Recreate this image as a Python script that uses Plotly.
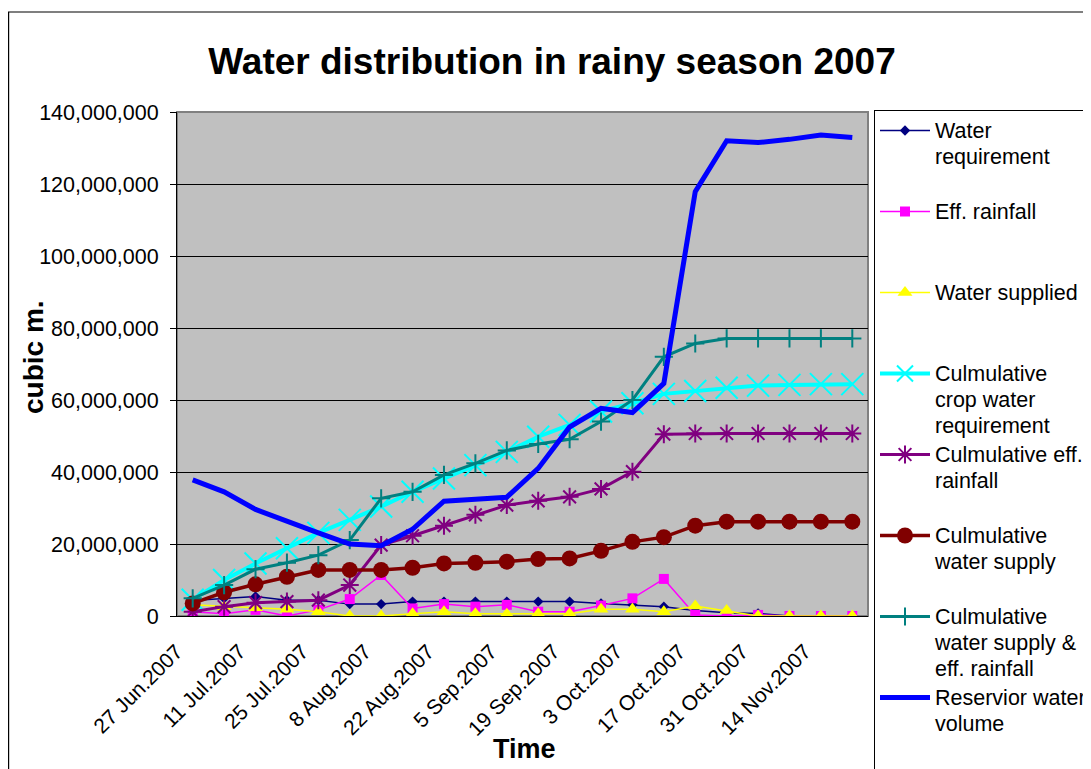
import plotly.graph_objects as go

dates = ["27 Jun.2007", "4 Jul.2007", "11 Jul.2007", "18 Jul.2007", "25 Jul.2007",
         "1 Aug.2007", "8 Aug.2007", "15 Aug.2007", "22 Aug.2007", "29 Aug.2007",
         "5 Sep.2007", "12 Sep.2007", "19 Sep.2007", "26 Sep.2007", "3 Oct.2007",
         "10 Oct.2007", "17 Oct.2007", "24 Oct.2007", "31 Oct.2007", "7 Nov.2007",
         "14 Nov.2007", "21 Nov.2007"]
tick_labels = dates[::2]

water_requirement = [4.3e6, 4.9e6, 5.4e6, 4.4e6, 4.4e6, 3.3e6, 3.3e6, 4.0e6, 4.0e6, 4.0e6, 4.0e6,
                     4.0e6, 4.0e6, 3.5e6, 3.1e6, 2.6e6, 1.5e6, 0.9e6, 0.7e6, 0.0, 0.0, 0.0]
eff_rainfall = [1.2e6, 0.6e6, 1.7e6, 0.0, 1.7e6, 4.7e6, 11.4e6, 2.1e6, 3.3e6, 2.6e6, 3.1e6,
                1.2e6, 1.2e6, 2.9e6, 4.9e6, 10.3e6, 0.3e6, 0.0, 0.3e6, 0.0, 0.0, 0.0]
water_supplied = [3.1e6, 2.6e6, 2.3e6, 1.9e6, 1.2e6, 0.0, 0.0, 0.6e6, 1.2e6, 0.6e6, 0.5e6,
                  0.6e6, 0.6e6, 1.9e6, 1.9e6, 1.2e6, 2.8e6, 1.5e6, 0.0, 0.0, 0.0, 0.0]
cum_crop_req = [4.5e6, 10.0e6, 14.6e6, 18.8e6, 23.1e6, 26.7e6, 30.4e6, 34.5e6, 38.2e6, 41.9e6, 45.6e6,
                49.8e6, 53.1e6, 56.8e6, 59.1e6, 61.7e6, 62.5e6, 63.4e6, 64.0e6, 64.2e6, 64.4e6, 64.4e6]
cum_eff_rain = [1.2e6, 2.6e6, 3.7e6, 4.0e6, 4.4e6, 8.6e6, 19.7e6, 22.3e6, 25.1e6, 28.1e6, 30.8e6,
                32.0e6, 33.1e6, 35.3e6, 40.1e6, 50.5e6, 50.7e6, 50.7e6, 50.7e6, 50.7e6, 50.7e6, 50.7e6]
cum_supply = [3.5e6, 6.6e6, 8.8e6, 10.9e6, 12.8e6, 12.8e6, 12.8e6, 13.4e6, 14.6e6, 14.8e6, 15.1e6,
              15.8e6, 16.0e6, 18.1e6, 20.6e6, 21.9e6, 25.1e6, 26.2e6, 26.2e6, 26.2e6, 26.2e6, 26.2e6]
cum_supply_rain = [4.9e6, 8.6e6, 13.0e6, 14.8e6, 16.9e6, 21.1e6, 32.7e6, 34.5e6, 39.2e6, 42.4e6, 46.0e6,
                   47.8e6, 49.1e6, 54.0e6, 60.0e6, 72.0e6, 75.7e6, 77.1e6, 77.1e6, 77.1e6, 77.1e6, 77.1e6]
reservoir = [37.8e6, 34.5e6, 29.6e6, 26.2e6, 23.1e6, 20.0e6, 19.5e6, 24.1e6, 31.9e6, 32.4e6, 33.0e6,
             41.0e6, 52.5e6, 57.7e6, 56.5e6, 64.6e6, 117.9e6, 132.0e6, 131.5e6, 132.4e6, 133.6e6, 132.9e6]

FONT = "Liberation Sans, Arial, sans-serif"


def legend_name(lines):
    # every legend entry takes three text lines so the entries are evenly spaced
    parts = [f'<span style="font-size:21.5px">{t}</span>' for t in lines]
    parts += [" "] * (3 - len(lines))
    return "<br>".join(parts)


series = [
    (["Water", "requirement"], water_requirement, "#000080", 1.5, "diamond", 8, 0),
    (["Eff. rainfall"], eff_rainfall, "#FF00FF", 1.5, "square", 10, 0),
    (["Water supplied"], water_supplied, "#FFFF00", 1.5, "triangle-up", 13, 0),
    (["Culmulative", "crop water", "requirement"], cum_crop_req, "#00FFFF", 4, "x-thin", 22, 2),
    (["Culmulative eff.", "rainfall"], cum_eff_rain, "#800080", 3, "asterisk", 15, 2),
    (["Culmulative", "water supply"], cum_supply, "#800000", 3.5, "circle", 16, 0),
    (["Culmulative", "water supply &", "eff. rainfall"], cum_supply_rain, "#008080", 3, "cross-thin", 13, 2),
    (["Reservior water", "volume"], reservoir, "#0000FF", 5, None, 0, 0),
]

fig = go.Figure()
for i, (lines, vals, color, lw, sym, size, mlw) in enumerate(series):
    name = legend_name(lines)
    if sym is None:
        fig.add_trace(go.Scatter(x=dates, y=vals, name=name, mode="lines",
                                 line=dict(color=color, width=lw), legendgroup=f"g{i}"))
    else:
        fig.add_trace(go.Scatter(x=dates, y=vals, name=name, mode="lines+markers",
                                 line=dict(color=color, width=lw),
                                 marker=dict(symbol=sym, size=size, color=color,
                                             line=dict(color=color, width=mlw)),
                                 legendgroup=f"g{i}"))

# page body has an 8px margin; work in reference-pixel coordinates and shift
OFF = 8
W, H = 1091 - OFF, 769 - OFF
L, R, T, B = 177 - OFF, 868 - OFF, 112 - OFF, 616 - OFF
pw, ph = R - L, B - T

def px_x(x):
    return (x - OFF - L) / pw

def px_y(y):
    return (B - (y - OFF)) / ph

fig.update_layout(
    width=W, height=H,
    margin=dict(l=L, r=W - R, t=T, b=H - B, autoexpand=False),
    paper_bgcolor="white",
    plot_bgcolor="#C0C0C0",
    font=dict(family=FONT, color="black", size=20),
    title=dict(text="<b>Water distribution in rainy season 2007</b>",
               font=dict(family=FONT, size=37, color="black"),
               x=(552 - OFF) / W, xref="container", xanchor="center",
               y=1 - (61 - OFF) / H, yref="container", yanchor="middle"),
    showlegend=True,
    legend=dict(x=px_x(874), y=px_y(110), xanchor="left", yanchor="top",
                bgcolor="white", bordercolor="black", borderwidth=1,
                font=dict(family=FONT, size=20, color="black"),
                tracegroupgap=0, itemwidth=50, valign="top",
                traceorder="normal", maxheight=2000),
    xaxis=dict(type="category", range=[-0.5, 21.5], tickvals=tick_labels, ticktext=tick_labels,
               tickangle=-45, ticks="", showgrid=False, showline=True, linecolor="black",
               linewidth=1, tickfont=dict(family=FONT, size=21, color="black"), zeroline=False,
               ticklabelstandoff=14, ticklabelshift=-16),
    xaxis2=dict(overlaying="x", anchor="y", type="linear", range=[-0.5, 21.5], tick0=-0.5, dtick=1,
                ticks="outside", ticklen=6, tickcolor="black", showticklabels=False,
                showgrid=False, showline=False, zeroline=False),
    yaxis=dict(range=[0, 140e6], dtick=20e6, tickformat=",d", ticks="outside", ticklen=6,
               tickcolor="black", showline=True, linecolor="black", linewidth=1,
               showgrid=True, gridcolor="black", gridwidth=1, zeroline=False,
               tickfont=dict(family=FONT, size=21.5, color="black"), ticklabelstandoff=7),
)

# plot area border (grey top/right) and outer chart frame
fig.add_shape(type="rect", xref="paper", yref="paper", x0=0, y0=0, x1=1, y1=1,
              line=dict(color="#808080", width=2), layer="below")
fig.add_shape(type="path", xref="paper", yref="paper",
              path=f"M {px_x(8.6)},{px_y(790)} L {px_x(8.6)},{px_y(12)} L {px_x(1100)},{px_y(12)}",
              line=dict(color="black", width=1.2))

fig.add_annotation(text="<b>cubic m.</b>", xref="paper", yref="paper", x=px_x(33), y=px_y(357),
                   showarrow=False, textangle=-90, font=dict(family=FONT, size=28, color="black"),
                   xanchor="center", yanchor="middle")
fig.add_annotation(text="<b>Time</b>", xref="paper", yref="paper", x=px_x(524), y=px_y(749),
                   showarrow=False, font=dict(family=FONT, size=27, color="black"),
                   xanchor="center", yanchor="middle")

fig.write_html("out.html")
